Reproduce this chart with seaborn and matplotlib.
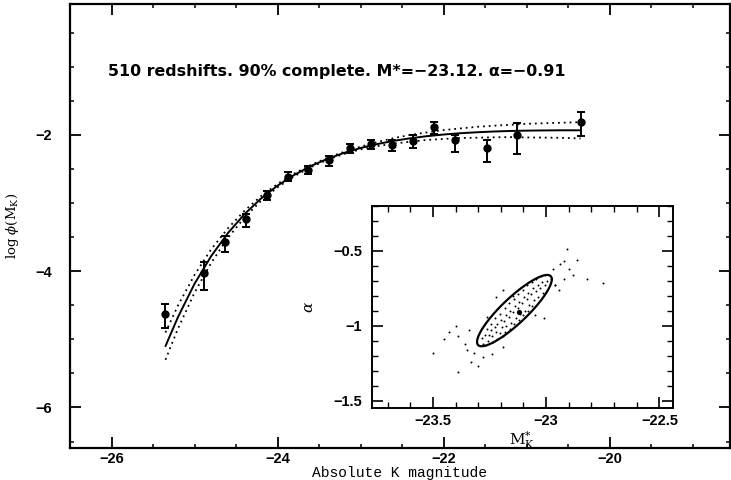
import numpy as np
import pandas as pd
import matplotlib
matplotlib.use("Agg")
import matplotlib.pyplot as plt
import seaborn as sns
from matplotlib.ticker import MultipleLocator, FuncFormatter

# ---------------- main luminosity function data ----------------
mag = [-25.35, -24.88, -24.63, -24.38, -24.13, -23.87, -23.63, -23.38, -23.13,
       -22.88, -22.62, -22.37, -22.12, -21.86, -21.48, -21.11, -20.34]
logphi = [-4.63, -4.02, -3.565, -3.236, -2.88, -2.611, -2.513, -2.371, -2.195,
          -2.136, -2.147, -2.084, -1.89, -2.073, -2.195, -2.0, -1.805]
err_lo = [0.21, 0.25, 0.16, 0.117, 0.073, 0.063, 0.063, 0.079, 0.07,
          0.074, 0.088, 0.111, 0.103, 0.172, 0.196, 0.279, 0.205]
err_hi = [0.15, 0.15, 0.085, 0.073, 0.06, 0.064, 0.063, 0.063, 0.06,
          0.063, 0.074, 0.084, 0.073, 0.073, 0.122, 0.172, 0.138]

# fitted Schechter curve (solid) and its 1-sigma envelope half-width (dotted)
fit_mag = [-25.35, -25.2, -25.0, -24.8, -24.6, -24.4, -24.2, -24.0, -23.8, -23.6,
           -23.4, -23.2, -23.0, -22.8, -22.6, -22.4, -22.2, -22.0, -21.8, -21.6,
           -21.4, -21.2, -21.0, -20.8, -20.6, -20.35]
fit_logphi = [-5.10, -4.675, -4.185, -3.780, -3.444, -3.166, -2.935, -2.745, -2.588, -2.458,
              -2.352, -2.265, -2.193, -2.135, -2.088, -2.050, -2.019, -1.995, -1.976, -1.962,
              -1.951, -1.943, -1.938, -1.935, -1.933, -1.933]
fit_band = [0.20, 0.17, 0.13, 0.10, 0.07, 0.05, 0.035, 0.025, 0.02, 0.015,
            0.015, 0.015, 0.02, 0.03, 0.04, 0.05, 0.055, 0.065, 0.07, 0.08,
            0.085, 0.09, 0.10, 0.105, 0.11, 0.12]

annotation = "510 redshifts. 90% complete. M*=\u221223.12. \u03b1=\u22120.91"

# ---------------- inset: (M*, alpha) bootstrap cloud ----------------
cloud_x = [-23.283, -23.277, -23.271, -23.262, -23.258, -23.254, -23.265,
           -23.243, -23.238, -23.236, -23.245, -23.224, -23.218, -23.221, -23.215, -23.227,
           -23.203, -23.198, -23.196, -23.205, -23.192, -23.183, -23.177, -23.186, -23.175, -23.181,
           -23.163, -23.158, -23.166, -23.155, -23.161, -23.143, -23.137, -23.146, -23.135, -23.141, -23.148,
           -23.123, -23.118, -23.126, -23.115, -23.121, -23.103, -23.097, -23.106, -23.095, -23.101,
           -23.083, -23.078, -23.086, -23.075, -23.081, -23.063, -23.058, -23.066, -23.055, -23.061,
           -23.043, -23.038, -23.046, -23.035, -23.023, -23.018, -23.026, -23.015, -23.003, -22.998, -23.006,
           -22.91, -22.92, -22.865, -22.82, -22.92, -22.97, -22.96, -23.43, -23.39, -23.50, -23.39,
           -23.32, -23.28, -23.19, -23.34, -23.26, -23.22, -23.19, -22.96, -22.945, -23.01, -23.05,
           -23.35, -23.36, -23.33, -23.24, -22.90, -22.94, -23.40, -23.45, -23.30, -22.88, -22.75,
           -23.12]
cloud_y = [-1.08, -1.12, -1.06, -1.02, -1.10, -1.06, -1.13,
           -0.99, -1.07, -1.11, -1.03, -0.95, -0.99, -1.04, -1.09, -1.01,
           -0.92, -0.96, -1.01, -1.05, -1.07, -0.88, -0.93, -0.97, -1.00, -1.04,
           -0.85, -0.90, -0.94, -0.98, -1.02, -0.82, -0.87, -0.91, -0.95, -0.99, -0.80,
           -0.79, -0.84, -0.88, -0.92, -0.96, -0.76, -0.81, -0.85, -0.90, -0.93,
           -0.73, -0.78, -0.82, -0.86, -0.90, -0.71, -0.75, -0.79, -0.83, -0.87,
           -0.69, -0.73, -0.77, -0.81, -0.67, -0.71, -0.75, -0.78, -0.66, -0.70, -0.73,
           -0.49, -0.57, -0.56, -0.69, -0.69, -0.62, -0.73, -1.04, -1.07, -1.185, -1.31,
           -1.185, -1.21, -1.14, -1.03, -0.94, -0.806, -0.76, -0.73, -0.76, -0.95, -0.93,
           -1.16, -1.12, -1.24, -1.19, -0.62, -0.59, -1.00, -1.09, -1.27, -0.66, -0.714,
           -0.91]
best_mstar = -23.12
best_alpha = -0.91
# error ellipse: centre, half-extent in M*, half-extent in alpha, phase offset
ell_cx, ell_cy, ell_sx, ell_sy, ell_phase = -23.14, -0.90, 0.165, 0.238, 0.50

# ---------------- style ----------------
sns.set_theme(style="ticks")
plt.rcParams["font.family"] = ["Liberation Sans", "DejaVu Sans"]
plt.rcParams["mathtext.fontset"] = "dejavuserif"
plt.rcParams["text.color"] = "black"
plt.rcParams["axes.labelcolor"] = "black"

fmt = FuncFormatter(lambda v, p: f"{v:g}".replace("-", "\u2212"))

W, H = 731, 480
fig = plt.figure(figsize=(W / 100, H / 100), dpi=100)
fig.patch.set_facecolor("white")

ax = fig.add_axes([70 / W, 1 - 447.7 / H, 660 / W, 443.7 / H])
ax.set_facecolor("white")

df_fit = pd.DataFrame({"M": fit_mag, "phi": fit_logphi, "band": fit_band})
df_fit["up"] = df_fit["phi"] + df_fit["band"]
df_fit["lo"] = df_fit["phi"] - df_fit["band"]

sns.lineplot(data=df_fit, x="M", y="phi", color="black", lw=1.4, sort=False,
             estimator=None, ax=ax)
sns.lineplot(data=df_fit, x="M", y="up", color="black", lw=1.3, ls=(0, (1, 2.2)),
             sort=False, estimator=None, ax=ax)
sns.lineplot(data=df_fit, x="M", y="lo", color="black", lw=1.3, ls=(0, (1, 2.2)),
             sort=False, estimator=None, ax=ax)

ax.errorbar(mag, logphi, yerr=[err_lo, err_hi], fmt="none", ecolor="black",
            elinewidth=1.4, capsize=3.2, capthick=1.4)
sns.scatterplot(x=mag, y=logphi, color="black", s=36, linewidth=0, ax=ax, zorder=5)

ax.set_xlim(-26.5, -18.55)
ax.set_ylim(-6.59, -0.08)
ax.xaxis.set_major_locator(MultipleLocator(2))
ax.xaxis.set_minor_locator(MultipleLocator(0.5))
ax.yaxis.set_major_locator(MultipleLocator(2))
ax.yaxis.set_minor_locator(MultipleLocator(0.5))
ax.xaxis.set_major_formatter(fmt)
ax.yaxis.set_major_formatter(fmt)
ax.tick_params(which="both", direction="in", top=True, right=True, colors="black")
ax.tick_params(which="major", length=8, width=1.3, labelsize=10.5)
ax.tick_params(which="minor", length=3, width=1.1)
ax.tick_params(axis="y", which="major", pad=13)
ax.tick_params(axis="x", which="major", pad=3)
for lab in ax.get_xticklabels() + ax.get_yticklabels():
    lab.set_fontweight("bold")
for s in ax.spines.values():
    s.set_linewidth(1.6)
    s.set_color("black")

ax.set_xlabel("Absolute K magnitude", family=["Liberation Mono", "DejaVu Sans Mono"],
              fontsize=10.5, labelpad=0)
ax.set_ylabel(r"log $\phi$(M$_{\rm K}$)", family=["DejaVu Serif"], fontsize=9.5,
              labelpad=10)

ax.text(-26.04, -1.076, annotation, family=["DejaVu Sans"],
        fontweight="bold", fontsize=11.4, ha="left", va="center", color="black")

# ---------------- inset ----------------
axin = fig.add_axes([371.7 / W, 1 - 408 / H, 301.3 / W, 202.3 / H])
axin.set_facecolor("white")
sns.scatterplot(x=cloud_x, y=cloud_y, color="black", s=2.0, linewidth=0, ax=axin)
sns.scatterplot(x=[best_mstar], y=[best_alpha], color="black", s=14, linewidth=0, ax=axin)
t = np.linspace(0, 2 * np.pi, 300)
ex = ell_cx + ell_sx * np.cos(t)
ey = ell_cy + ell_sy * np.cos(t - ell_phase)
axin.plot(ex, ey, color="black", lw=1.6)

axin.set_xlim(-23.77, -22.44)
axin.set_ylim(-1.55, -0.2)
axin.xaxis.set_major_locator(MultipleLocator(0.5))
axin.xaxis.set_minor_locator(MultipleLocator(0.1))
axin.yaxis.set_major_locator(MultipleLocator(0.5))
axin.yaxis.set_minor_locator(MultipleLocator(0.1))
axin.xaxis.set_major_formatter(fmt)
axin.yaxis.set_major_formatter(fmt)
axin.tick_params(which="both", direction="in", top=True, right=True, colors="black")
axin.tick_params(which="major", length=8, width=1.2, labelsize=10.5)
axin.tick_params(which="minor", length=4, width=1.0)
axin.tick_params(axis="y", which="major", pad=7)
axin.tick_params(axis="x", which="major", pad=4)
for lab in axin.get_xticklabels() + axin.get_yticklabels():
    lab.set_fontweight("bold")
for s in axin.spines.values():
    s.set_linewidth(1.4)
    s.set_color("black")
axin.set_xlabel(r"$\mathrm{M}^{*}_{\mathrm{K}}$", fontsize=11, labelpad=1)
axin.set_ylabel(r"$\alpha$", fontsize=11, labelpad=12)

fig.savefig("out.png", dpi=100, facecolor="white")
